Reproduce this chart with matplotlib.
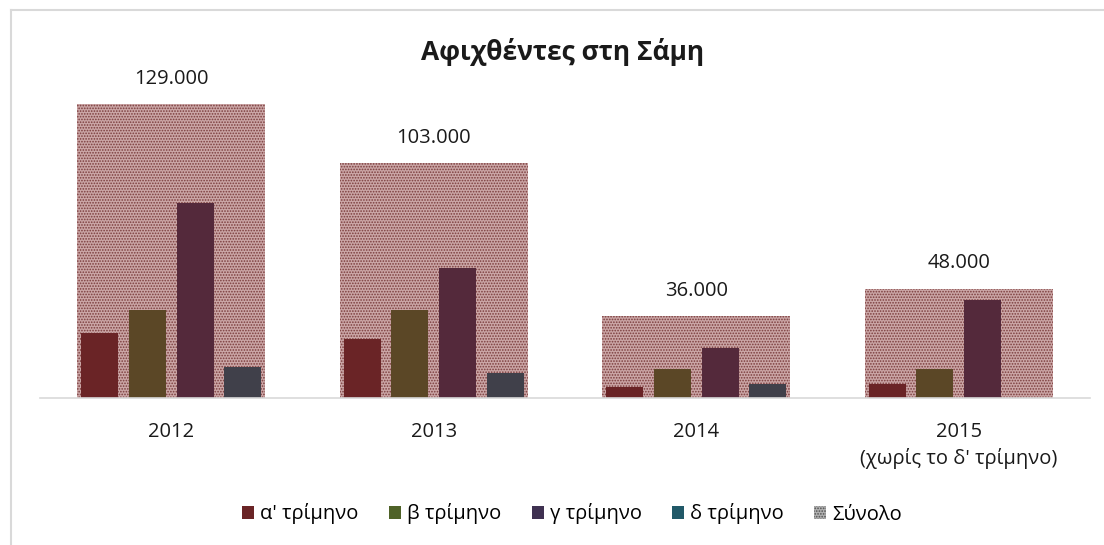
import numpy as np
from matplotlib import pyplot as plt
from matplotlib.patches import Patch
from matplotlib.lines import Line2D

plt.rcParams["font.family"] = ["Open Sans", "DejaVu Sans"]
plt.rcParams["hatch.linewidth"] = 0.8

# data
years = ["2012", "2013", "2014", "2015\n(χωρίς το δ' τρίμηνο)"]
totals = [129000, 103000, 36000, 48000]
total_labels = ["129.000", "103.000", "36.000", "48.000"]
q1 = [28500, 25900, 4800, 6100]
q2 = [38600, 38600, 12700, 12700]
q3 = [85500, 57000, 21900, 43000]
q4 = [13600, 11000, 6100, 0]
series_names = ["α' τρίμηνο", "β τρίμηνο", "γ τρίμηνο", "δ τρίμηνο", "Σύνολο"]

bar_colors = ["#6a2426", "#5b4726", "#54293b", "#40404a"]
legend_colors = ["#6a2426", "#4f6228", "#3f3151", "#215968"]

fig = plt.figure(figsize=(11.04, 5.45), dpi=100)
ax = fig.add_axes([40 / 1104, 1 - 398 / 545, 1050 / 1104, 338 / 545])

x = np.arange(len(years))
ax.bar(x, totals, width=0.716, color="#cba6a6", edgecolor="#7a3c3c",
       hatch="......", linewidth=0, zorder=1)
for xi, t, lab in zip(x, totals, total_labels):
    ax.annotate(lab, (xi, t), xytext=(0, 11), textcoords="offset points",
                ha="center", va="bottom", fontsize=14.5, color="#1a1a1a")

offsets = [-0.272, -0.091, 0.091, 0.272]
for off, vals, c in zip(offsets, [q1, q2, q3, q4], bar_colors):
    ax.bar(x + off, vals, width=0.141, color=c, linewidth=0, zorder=2)

ax.set_xlim(-0.5, 3.5)
ax.set_ylim(0, 148200)
ax.set_yticks([])
ax.set_xticks(x)
ax.set_xticklabels(years, fontsize=14.5, color="#1a1a1a", linespacing=1.4)
ax.tick_params(axis="x", length=0, pad=17)
for s in ["top", "right", "left"]:
    ax.spines[s].set_visible(False)
ax.spines["bottom"].set_color("#d9d9d9")
ax.spines["bottom"].set_linewidth(1.2)

fig.text(563 / 1104, 1 - 52 / 545, "Αφιχθέντες στη Σάμη", ha="center",
         va="center", fontsize=19, fontweight="bold", color="#1a1a1a")

handles = [Patch(facecolor=c, linewidth=0) for c in legend_colors]
handles.append(Patch(facecolor="#b0b0b0", edgecolor="#505050", hatch="......",
                     linewidth=0))
fig.legend(handles, series_names, loc="center", bbox_to_anchor=(572 / 1104, 1 - 514 / 545),
           ncol=5, frameon=False, fontsize=14.5, handlelength=0.6, handleheight=0.6,
           handletextpad=0.3, columnspacing=1.5)

# chart border
fig.add_artist(Line2D([10.5 / 1104, 1], [1 - 10 / 545] * 2, color="#d9d9d9", lw=1.5))
fig.add_artist(Line2D([10.5 / 1104] * 2, [0, 1 - 10 / 545], color="#d9d9d9", lw=1.5))

fig.savefig("out.png", dpi=100)
